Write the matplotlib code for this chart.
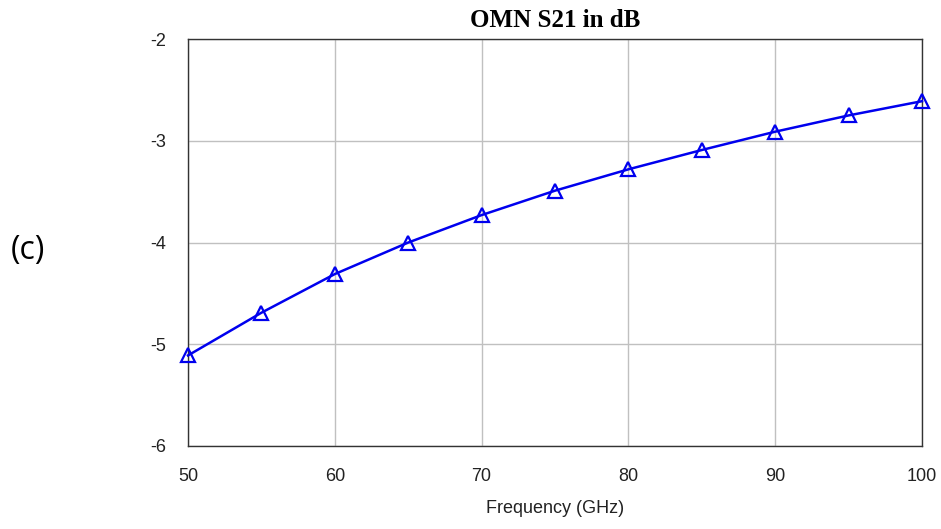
import numpy as np
import matplotlib.pyplot as plt

plt.rcParams['font.family'] = ['Liberation Sans', 'DejaVu Sans']

# S21 of the output matching network
freq = [50, 55, 60, 65, 70, 75, 80, 85, 90, 95, 100]
s21 = [-5.11, -4.69, -4.31, -4.00, -3.73, -3.49, -3.28, -3.09, -2.91, -2.75, -2.61]

xticks = [50, 60, 70, 80, 90, 100]
yticks = [-6, -5, -4, -3, -2]

fig = plt.figure(figsize=(9.41, 5.29), dpi=100)
ax = fig.add_axes([0.1998, 0.157, 0.7800, 0.769])

ax.plot(freq, s21, color="#0000ee", lw=1.8, marker="^", markersize=10,
        markerfacecolor="none", markeredgecolor="#0000ee", markeredgewidth=1.6,
        clip_on=False, zorder=3)

ax.set_xlim(50, 100)
ax.set_ylim(-6, -2)
ax.set_xticks(xticks)
ax.set_yticks(yticks)
ax.set_yticklabels([str(v) for v in yticks])
ax.grid(True, color="#c0c0c0", lw=1.0)
ax.set_axisbelow(True)
ax.tick_params(length=0, labelsize=13, pad=16, labelcolor="#222222")
for s in ax.spines.values():
    s.set_color("#333333")
    s.set_linewidth(1.0)

ax.set_xlabel("Frequency (GHz)", fontsize=13, color="#222222", labelpad=11)
ax.set_title("OMN S21 in dB", fontsize=18, fontweight="bold",
             family="Liberation Serif", pad=9)
fig.text(0.03, 0.527, "(c)", fontsize=23, family="Open Sans", ha="center", va="center")

fig.savefig("out.png", dpi=100)
